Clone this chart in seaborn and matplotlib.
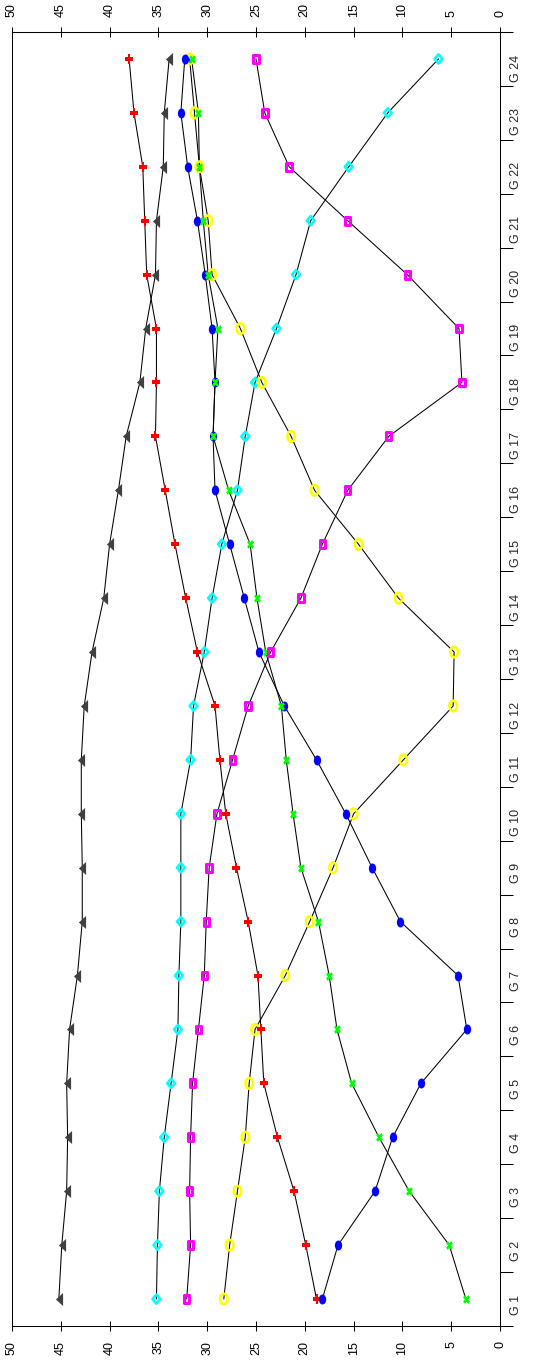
import matplotlib
matplotlib.use('Agg')
import matplotlib.pyplot as plt
import numpy as np
import pandas as pd
import seaborn as sns
from matplotlib.markers import MarkerStyle
from matplotlib.transforms import Affine2D
from matplotlib.ticker import MultipleLocator

# groups G 1 .. G 24
groups = ['G %d' % i for i in range(1, 25)]

tri = [45.2, 44.9, 44.4, 44.3, 44.4, 44.1, 43.3, 42.8, 42.8, 42.9, 42.9, 42.6,
       41.8, 40.6, 40.0, 39.1, 38.3, 36.9, 36.3, 35.3, 35.2, 34.5, 34.4, 33.9]
red = [18.8, 19.9, 21.1, 22.8, 24.2, 24.5, 24.8, 25.8, 27.0, 28.1, 28.7, 29.2,
       31.0, 32.2, 33.3, 34.3, 35.3, 35.2, 35.2, 36.2, 36.4, 36.6, 37.5, 38.0]
cyan = [35.2, 35.1, 34.9, 34.4, 33.7, 33.0, 32.9, 32.7, 32.7, 32.7, 31.7, 31.4,
        30.3, 29.5, 28.5, 26.9, 26.1, 25.1, 22.9, 20.9, 19.4, 15.5, 11.5, 6.3]
magenta = [32.1, 31.7, 31.8, 31.7, 31.5, 30.9, 30.3, 30.1, 29.8, 29.0, 27.4, 25.8,
           23.5, 20.4, 18.2, 15.6, 11.4, 3.9, 4.2, 9.5, 15.6, 21.6, 24.1, 25.0]
yellow = [28.3, 27.7, 26.9, 26.1, 25.7, 25.1, 22.0, 19.5, 17.1, 15.0, 9.9, 4.8,
          4.7, 10.4, 14.5, 19.0, 21.4, 24.4, 26.6, 29.5, 29.9, 30.8, 31.3, 31.8]
blue = [18.2, 16.6, 12.8, 11.0, 8.1, 3.4, 4.3, 10.2, 13.1, 15.8, 18.8, 22.1,
        24.7, 26.2, 27.7, 29.2, 29.4, 29.2, 29.5, 30.2, 31.0, 32.0, 32.7, 32.3]
green = [3.5, 5.2, 9.3, 12.4, 15.2, 16.7, 17.5, 18.6, 20.4, 21.2, 21.9, 22.4,
         24.0, 24.9, 25.6, 27.8, 29.4, 29.2, 28.9, 29.9, 30.4, 30.8, 30.9, 31.6]

series = {'tri': tri, 'red': red, 'cyan': cyan, 'magenta': magenta,
          'yellow': yellow, 'blue': blue, 'green': green}

pos = np.arange(1, len(groups) + 1)
df = pd.concat([pd.DataFrame({'pos': pos, 'value': v, 'series': k})
                for k, v in series.items()], ignore_index=True)


def squash(m, sx):
    # markers look stretched along the group axis in the reference
    ms = MarkerStyle(m)
    p = ms.get_path().transformed(ms.get_transform())
    return p.transformed(Affine2D().scale(sx, 1))


sns.set_style('ticks')
plt.rcParams['font.family'] = ['Liberation Sans', 'DejaVu Sans']

fig = plt.figure(figsize=(5.42, 13.7), dpi=100)
ax = fig.add_axes([12 / 542, 1 - 1326 / 1370, 488 / 542, 1294 / 1370])

# connecting lines first
sns.lineplot(data=df, x='value', y='pos', units='series', estimator=None,
             orient='y', color='black', linewidth=0.75, legend=False, ax=ax)

# markers (draw order roughly as in the picture)
styles = [
    ('tri', dict(marker=squash('<', 0.55), s=9.4 ** 2, color='#404040', linewidth=0)),
    ('cyan', dict(marker=squash('D', 0.85), s=6.6 ** 2, color='#00ffff',
                  facecolor='none', edgecolor='#00ffff', linewidth=1.9)),
    ('yellow', dict(marker=squash('o', 0.7), s=7.6 ** 2, color='#ffff00',
                    facecolor='none', edgecolor='#ffff00', linewidth=1.9)),
    ('red', dict(marker=squash('P', 0.83), s=6.7 ** 2, color='#ff0000', linewidth=0)),
    ('blue', dict(marker=squash('o', 0.73), s=7.2 ** 2, color='#0000ff', linewidth=0)),
    ('green', dict(marker=squash('X', 0.77), s=6.3 ** 2, color='#00ff00', linewidth=0)),
    ('magenta', dict(marker=squash('s', 0.7), s=5.6 ** 2, color='#ff00ff',
                     facecolor='none', edgecolor='#ff00ff', linewidth=2.2)),
]
for name, kw in styles:
    sub = df[df['series'] == name]
    sns.scatterplot(x=sub['value'], y=sub['pos'], ax=ax, legend=False, zorder=3, **kw)

ax.set_xlim(50, 0)
ax.set_ylim(0.5, len(groups) + 0.5)
ax.set_xticks(range(0, 51, 5))
ax.set_yticks(pos)
ax.set_yticklabels(groups)
ax.yaxis.set_minor_locator(MultipleLocator(1, offset=0.5))
ax.set_xlabel('')
ax.set_ylabel('')

for sp in ax.spines.values():
    sp.set_visible(True)
    sp.set_linewidth(0.75)
    sp.set_color('black')

ax.tick_params(axis='x', which='major', top=True, bottom=True, labeltop=True,
               labelbottom=True, direction='inout', length=7.2, width=0.75,
               labelrotation=90, labelsize=9, pad=7, colors='black')
ax.tick_params(axis='y', which='major', left=False, right=False, labelleft=False,
               labelright=True, length=0, labelrotation=90, labelsize=9, pad=7)
ax.tick_params(axis='y', which='minor', left=False, right=True, direction='out',
               length=9.4, width=0.75, color='black')

fig.savefig('out.png', dpi=100)
